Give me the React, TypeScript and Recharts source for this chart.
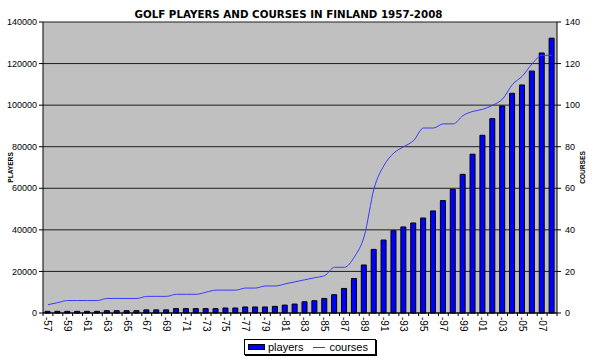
import React from 'react';
import { ComposedChart, Bar, Line, XAxis, YAxis, CartesianGrid, Legend } from 'recharts';

const years = [
  '1957', '1958', '1959', '1960', '1961', '1962', '1963', '1964', '1965', '1966',
  '1967', '1968', '1969', '1970', '1971', '1972', '1973', '1974', '1975', '1976',
  '1977', '1978', '1979', '1980', '1981', '1982', '1983', '1984', '1985', '1986',
  '1987', '1988', '1989', '1990', '1991', '1992', '1993', '1994', '1995', '1996',
  '1997', '1998', '1999', '2000', '2001', '2002', '2003', '2004', '2005', '2006',
  '2007', '2008',
];

const players = [
  800, 800, 800, 800, 800, 800, 1100, 1100, 1100, 1100,
  1500, 1500, 1500, 2100, 2100, 2100, 2100, 2100, 2400, 2400,
  2900, 2900, 2900, 3200, 3800, 4300, 5400, 5900, 7000, 8800,
  11800, 16600, 23100, 30600, 35100, 39600, 41400, 43300, 45700, 49100,
  54100, 59500, 66700, 76400, 85500, 93500, 99600, 105700, 109700, 116400,
  125100, 132200,
];

const courses = [
  4, 5, 6, 6, 6, 6, 7, 7, 7, 7,
  8, 8, 8, 9, 9, 9, 10, 11, 11, 11,
  12, 12, 13, 13, 14, 15, 16, 17, 18, 22,
  22, 27, 37, 60, 71, 77, 80, 83, 89, 89,
  91, 91, 95, 97, 98, 100, 103, 110, 114, 120,
  124, 124,
];

const playerTicks = [0, 20000, 40000, 60000, 80000, 100000, 120000, 140000];
const courseTicks = [0, 20, 40, 60, 80, 100, 120, 140];

const data = years.map((year, i) => ({ year, players: players[i], courses: courses[i] }));

const W = 592;
const H = 360;
const LEFT_W = 43;
const RIGHT_W = 35;
const TOP = 22;
const X_H = 47;
const HALF_STEP = (W - LEFT_W - RIGHT_W) / years.length / 2;

const FONT = '"Liberation Sans", Arial, sans-serif';

const XTick = (props: any) => {
  const { x, y, payload, index } = props;
  const label = '-' + String(payload.value).slice(2);
  return (
    <g>
      <line x1={x - HALF_STEP} y1={y - 3} x2={x - HALF_STEP} y2={y} stroke="#000" strokeWidth={1} />
      {index === years.length - 1 ? (
        <line x1={x + HALF_STEP} y1={y - 3} x2={x + HALF_STEP} y2={y} stroke="#000" strokeWidth={1} />
      ) : null}
      {index % 2 === 0 ? (
        <text
          x={x}
          y={y + 1}
          dy="0.35em"
          transform={`rotate(90 ${x} ${y + 1})`}
          textAnchor="start"
          fontSize={10}
          fontFamily={FONT}
          fill="#000"
        >
          {label}
        </text>
      ) : null}
    </g>
  );
};

const LegendBox = () => (
  <div
    style={{
      boxSizing: 'border-box',
      width: 132,
      height: 16,
      border: '1px solid #000',
      boxShadow: '1px 1px 0 #000',
      background: '#fff',
      display: 'flex',
      alignItems: 'center',
      fontFamily: FONT,
      fontSize: 11,
      color: '#000',
      paddingLeft: 3,
      lineHeight: '14px',
    }}
  >
    <span style={{ display: 'inline-block', boxSizing: 'border-box', width: 17, height: 6, background: '#0000ff', border: '1px solid #000' }} />
    <span style={{ marginLeft: 3 }}>players</span>
    <span style={{ display: 'inline-block', width: 12, height: 1, background: '#3a3aff', marginLeft: 10 }} />
    <span style={{ marginLeft: 4 }}>courses</span>
  </div>
);

export default function App() {
  return (
    <div style={{ position: 'absolute', left: 0, top: 0, width: W, height: H, background: '#fff' }}>
      <ComposedChart
        width={W}
        height={H}
        data={data}
        margin={{ top: TOP, right: 0, bottom: 0, left: 0 }}
        barCategoryGap="40%"
      >
        <CartesianGrid
          yAxisId="left"
          vertical={false}
          fill="#c0c0c0"
          fillOpacity={1}
          stroke="#1e1e1e"
          strokeWidth={1}
        />
        <XAxis
          dataKey="year"
          height={X_H}
          interval={0}
          tickLine={false}
          tickSize={3}
          tickMargin={0}
          axisLine={{ stroke: '#000' }}
          tick={<XTick />}
        />
        <YAxis
          yAxisId="left"
          width={LEFT_W}
          domain={[0, 140000]}
          ticks={playerTicks}
          interval={0}
          tickSize={4}
          tickMargin={2}
          axisLine={{ stroke: '#000' }}
          tickLine={{ stroke: '#000' }}
          tick={{ fontSize: 9, fontFamily: FONT, fill: '#000' }}
          label={{
            content: (p: any) => {
              const vb = p.viewBox || { x: 0, y: TOP, width: LEFT_W, height: 291 };
              const cx = vb.x + 12.7;
              const cy = vb.y + vb.height / 2;
              return (
                <text
                  x={cx}
                  y={cy}
                  transform={`rotate(-90 ${cx} ${cy})`}
                  textAnchor="middle"
                  fontSize={6.6}
                  fontWeight="bold"
                  fontFamily={FONT}
                  fill="#000"
                >
                  PLAYERS
                </text>
              );
            },
          }}
        />
        <YAxis
          yAxisId="right"
          orientation="right"
          width={RIGHT_W}
          domain={[0, 140]}
          ticks={courseTicks}
          interval={0}
          tickSize={4}
          tickMargin={4}
          axisLine={{ stroke: '#000' }}
          tickLine={{ stroke: '#000' }}
          tick={{ fontSize: 9, fontFamily: FONT, fill: '#000' }}
          label={{
            content: (p: any) => {
              const vb = p.viewBox || { x: W - RIGHT_W, y: TOP, width: RIGHT_W, height: 291 };
              const cx = vb.x + 28;
              const cy = vb.y + vb.height / 2;
              return (
                <text
                  x={cx}
                  y={cy}
                  transform={`rotate(-90 ${cx} ${cy})`}
                  textAnchor="middle"
                  fontSize={6.6}
                  fontWeight="bold"
                  fontFamily={FONT}
                  fill="#000"
                >
                  COURSES
                </text>
              );
            },
          }}
        />
        <Bar
          yAxisId="left"
          dataKey="players"
          name="players"
          fill="#0000ff"
          stroke="#000"
          strokeWidth={1}
          barSize={5}
          isAnimationActive={false}
        />
        <Line
          yAxisId="right"
          dataKey="courses"
          name="courses"
          type="monotone"
          stroke="#3a3aff"
          strokeWidth={1}
          dot={false}
          activeDot={false}
          isAnimationActive={false}
        />
        <Legend
          verticalAlign="middle"
          align="center"
          layout="horizontal"
          wrapperStyle={{ left: 244, top: 339, width: 132, height: 16 }}
          content={() => <LegendBox />}
        />
      </ComposedChart>
      <svg
        width={W}
        height={30}
        style={{ position: 'absolute', left: 0, top: 0, pointerEvents: 'none' }}
      >
        <text
          x={288.5}
          y={17.5}
          textAnchor="middle"
          fontSize={10.3}
          fontWeight="bold"
          fontFamily='"DejaVu Sans", Verdana, sans-serif'
          fill="#000"
        >
          GOLF PLAYERS AND COURSES IN FINLAND 1957-2008
        </text>
      </svg>
    </div>
  );
}
